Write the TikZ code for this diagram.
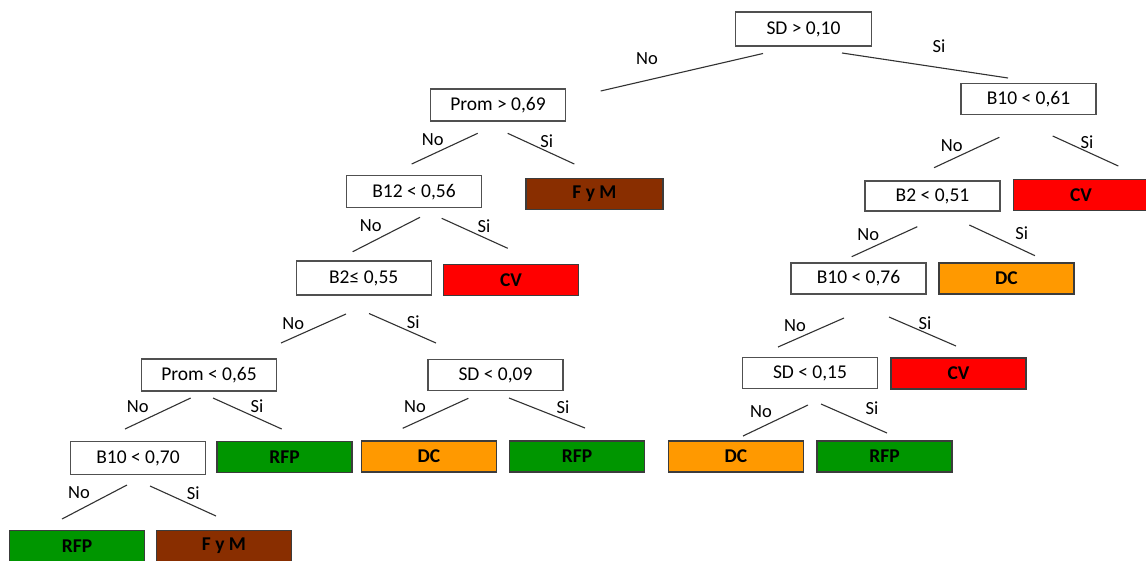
\documentclass[tikz,border=0pt]{standalone}
\usepackage{fontspec}
\setmainfont{Carlito}
\definecolor{leafgreen}{RGB}{0,150,0}
\definecolor{leaforange}{RGB}{255,153,0}
\definecolor{leafred}{RGB}{255,0,0}
\definecolor{leafbrown}{RGB}{137,46,0}
\definecolor{boxgray}{RGB}{80,80,80}
\definecolor{leafborder}{RGB}{60,60,60}
\definecolor{edgegray}{RGB}{50,50,50}
\tikzset{
  cond/.style={draw=boxgray, line width=1.2pt, fill=white, minimum width=135pt, minimum height=32pt, inner sep=0pt, font=\fontsize{19.5}{22}\selectfont},
  leaf/.style={draw=leafborder, line width=1.2pt, minimum width=135pt, minimum height=31pt, inner sep=0pt, font=\fontsize{19.5}{22}\selectfont\bfseries},
  edge/.style={draw=edgegray, line width=1.1pt},
  lab/.style={font=\fontsize{18.5}{20}\selectfont, inner sep=0pt},
}
\begin{document}
\begin{tikzpicture}[x=1pt,y=-1pt]
\clip (0,0) rectangle (1146,560);
\fill[white] (0,0) rectangle (1146,560);
% condition nodes
\node[cond, minimum width=136pt, minimum height=34pt] (root) at (803.5,29) {SD > 0,10};
\node[cond] (prom1) at (498,105) {Prom > 0,69};
\node[cond, minimum height=31pt] (b10a) at (1028.5,99) {B10 < 0,61};
\node[cond, minimum height=32pt] (b12) at (414,191.7) {B12 < 0,56};
\node[cond, minimum height=30pt] (b2a) at (932.5,196) {B2 < 0,51};
\node[cond, minimum height=34pt] (b2b) at (363.7,278) {B2≤ 0,55};
\node[cond, minimum height=31pt] (b10b) at (858.5,278.5) {B10 < 0,76};
\node[cond] (prom2) at (209,375) {Prom < 0,65};
\node[cond, minimum height=31pt] (sd09) at (495.5,375) {SD < 0,09};
\node[cond, minimum height=31pt] (sd15) at (810,373) {SD < 0,15};
\node[cond, minimum height=33pt] (b10c) at (138,458) {B10 < 0,70};
% leaves
\node[leaf, fill=leafbrown, minimum width=137pt] (fym1) at (594.5,194.2) {F y M};
\node[leaf, fill=leafred, minimum height=31pt] (cv1) at (1081,194.8) {CV};
\node[leaf, fill=leafred] (cv2) at (511,279.7) {CV};
\node[leaf, fill=leaforange] (dc1) at (1006.5,278.5) {DC};
\node[leaf, fill=leafred] (cv3) at (958.5,373.5) {CV};
\node[leaf, fill=leafgreen] (rfp1) at (284.5,456.7) {RFP};
\node[leaf, fill=leaforange] (dc2) at (429,456.5) {DC};
\node[leaf, fill=leafgreen] (rfp2) at (577,456.5) {RFP};
\node[leaf, fill=leaforange] (dc3) at (736,456.5) {DC};
\node[leaf, fill=leafgreen] (rfp3) at (884.5,456.5) {RFP};
\node[leaf, fill=leafgreen] (rfp4) at (77,546) {RFP};
\node[leaf, fill=leafbrown] (fym2) at (224,546) {F y M};
% connector end points
\coordinate (e1a) at (763,53.5);  \coordinate (e1b) at (600.7,91);
\coordinate (e2a) at (842,53);  \coordinate (e2b) at (1008,78);
\coordinate (e3a) at (477.7,133.3); \coordinate (e3b) at (411.7,164);
\coordinate (e4a) at (507.7,133.3); \coordinate (e4b) at (574.3,164);
\coordinate (e5a) at (999.3,137.3); \coordinate (e5b) at (934,167.7);
\coordinate (e6a) at (1052.7,136); \coordinate (e6b) at (1118.3,166);
\coordinate (e7a) at (420,217.3); \coordinate (e7b) at (352.7,251.7);
\coordinate (e8a) at (441.7,218.3); \coordinate (e8b) at (507.7,248.3);
\coordinate (e9a) at (917.3,226.7); \coordinate (e9b) at (851.7,256.7);
\coordinate (e10a) at (969.3,225); \coordinate (e10b) at (1035,255.7);
\coordinate (e11a) at (346,314); \coordinate (e11b) at (281,343);
\coordinate (e12a) at (369,313.5); \coordinate (e12b) at (436,343);
\coordinate (e13a) at (844,318); \coordinate (e13b) at (778,347);
\coordinate (e14a) at (889,317); \coordinate (e14b) at (956,346);
\coordinate (e15a) at (190.7,398); \coordinate (e15b) at (125,429);
\coordinate (e16a) at (213,398); \coordinate (e16b) at (281.7,429);
\coordinate (e17a) at (468.3,398.3); \coordinate (e17b) at (402.7,428.3);
\coordinate (e18a) at (509,398); \coordinate (e18b) at (585,428);
\coordinate (e19a) at (808,405); \coordinate (e19b) at (743,436);
\coordinate (e20a) at (821,404); \coordinate (e20b) at (887,433);
\coordinate (e21a) at (127,485); \coordinate (e21b) at (62,519);
\coordinate (e22a) at (150,486); \coordinate (e22b) at (216,516);
% connectors
\foreach \e in {1,...,22} {\draw[edge] (e\e a) -- (e\e b);}
% labels
\node[lab] (l1) at (647,59) {No};
\node[lab] (l2) at (939,46) {Si};
\node[lab] (l3) at (432.7,140) {No};
\node[lab] (l4) at (546.7,140.7) {Si};
\node[lab] (l5) at (951.7,145.7) {No};
\node[lab] (l6) at (1087,141.7) {Si};
\node[lab] (l7) at (370.7,226) {No};
\node[lab] (l8) at (484,226) {Si};
\node[lab] (l9) at (868.3,235) {No};
\node[lab] (l10) at (1021.7,233.3) {Si};
\node[lab] (l11) at (293.3,323.3) {No};
\node[lab] (l12) at (413.3,322.3) {Si};
\node[lab] (l13) at (795,326) {No};
\node[lab] (l14) at (925,323) {Si};
\node[lab] (l15) at (137.7,406.7) {No};
\node[lab] (l16) at (257,406) {Si};
\node[lab] (l17) at (415,406.7) {No};
\node[lab] (l18) at (563,407) {Si};
\node[lab] (l19) at (761,412) {No};
\node[lab] (l20) at (872,408) {Si};
\node[lab] (l21) at (79,493) {No};
\node[lab] (l22) at (193.3,493.3) {Si};
\end{tikzpicture}
\end{document}
